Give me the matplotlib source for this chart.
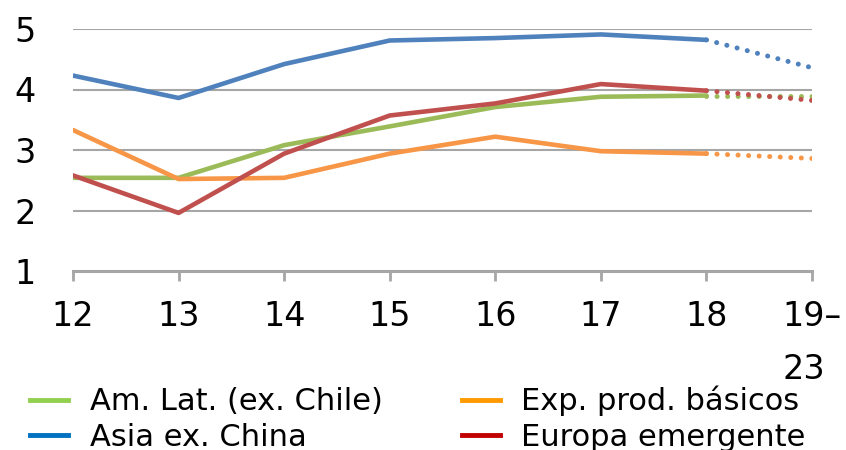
import matplotlib.pyplot as plt
from matplotlib.lines import Line2D

# years on the x axis, last point is the 2019-23 average
years = ["12", "13", "14", "15", "16", "17", "18", "19–\n23"]

am_lat = [2.54, 2.54, 3.08, 3.39, 3.71, 3.88, 3.90, 3.90]
asia = [4.23, 3.86, 4.42, 4.81, 4.85, 4.91, 4.82, 4.36]
exp_prod = [3.33, 2.52, 2.54, 2.94, 3.22, 2.98, 2.94, 2.86]
europa = [2.58, 1.96, 2.94, 3.57, 3.77, 4.09, 3.98, 3.82]

labels = ["Am. Lat. (ex. Chile)", "Asia ex. China", "Exp. prod. básicos", "Europa emergente"]
line_colors = ["#9BBB59", "#4F81BD", "#F79646", "#C0504D"]
legend_colors = ["#92D050", "#0070C0", "#FF9900", "#C00000"]

fig = plt.figure(figsize=(8.46, 4.5), dpi=100)
ax = fig.add_axes([73/846, 1 - 271/450, (812 - 73)/846, 242/450])

x = list(range(len(years)))
series = [am_lat, asia, exp_prod, europa]
for vals, c in zip(series, line_colors):
    # actual data, solid
    ax.plot(x[:7], vals[:7], color=c, lw=3.3, solid_capstyle='round', solid_joinstyle='round', zorder=3)
    # projection, dotted
    ax.plot(x[6:], vals[6:], color=c, lw=3.6, linestyle=(0, (0.01, 2.1)),
            dash_capstyle='round', zorder=3)

ax.set_xlim(0, 7)
ax.set_ylim(1, 5)
ax.set_yticks([1, 2, 3, 4, 5])
for yv in [2, 3, 4, 5]:
    ax.axhline(yv, color="#A6A6A6", lw=1.5, zorder=1)

ax.set_xticks(x)
ax.set_xticklabels(years, fontsize=24, linespacing=1.75, multialignment='left')
ax.tick_params(axis='x', length=7, width=2, color="#A6A6A6", pad=14)
ax.tick_params(axis='y', length=0, pad=27, labelsize=24)

for s in ['top', 'right', 'left']:
    ax.spines[s].set_visible(False)
ax.spines['bottom'].set_color("#A6A6A6")
ax.spines['bottom'].set_linewidth(2.2)

handles = [Line2D([0], [0], color=c, lw=3.5) for c in legend_colors]
fig.legend(handles, labels, loc='upper left', bbox_to_anchor=(30/846, 1 - 386/450),
           ncol=2, frameon=False, fontsize=22, handlelength=1.25, handletextpad=0.7,
           labelspacing=0.2, columnspacing=2.6, borderaxespad=0, borderpad=0)

fig.savefig("out.png", dpi=100)
